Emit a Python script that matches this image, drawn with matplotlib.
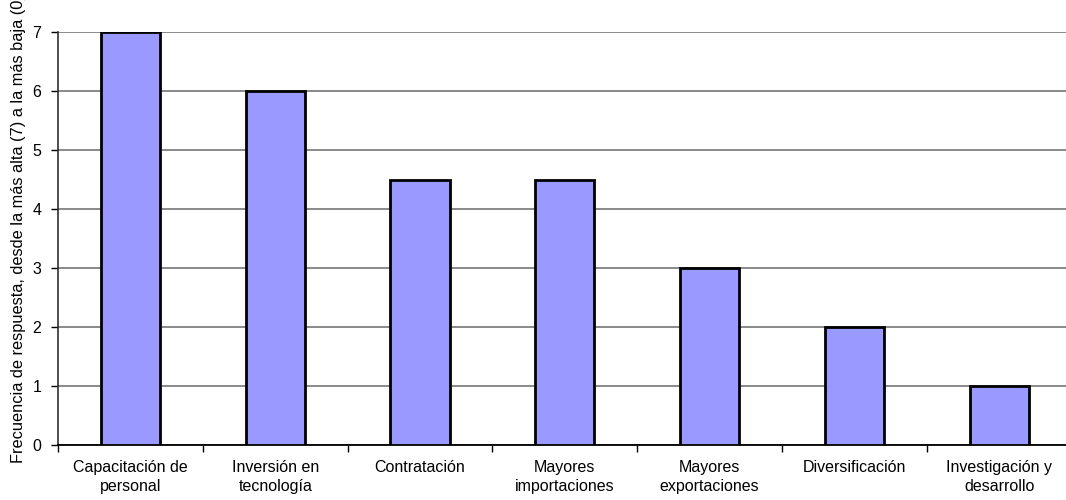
import matplotlib
matplotlib.use("Agg")
import matplotlib.pyplot as plt
import numpy as np

categories = ["Capacitación de\npersonal", "Inversión en\ntecnología", "Contratación",
              "Mayores\nimportaciones", "Mayores\nexportaciones", "Diversificación",
              "Investigación y\ndesarrollo"]
values = [7, 6, 4.5, 4.5, 3, 2, 1]
yticks = [0, 1, 2, 3, 4, 5, 6, 7]
ylabel = "Frecuencia de respuesta, desde la más alta (7) a la más baja (0)"

plt.rcParams['font.family'] = ['Liberation Sans', 'DejaVu Sans']

fig = plt.figure(figsize=(10.66, 5.0), dpi=100)
ax = fig.add_axes([58/1066, 55/500, 1013.6/1066, 413/500])

x = np.arange(len(categories))
ax.bar(x, values, width=0.41, color="#9999FF", edgecolor="black", linewidth=2.0, zorder=3)

ax.set_xlim(-0.5, len(categories) - 0.5)
ax.set_ylim(0, 7)
ax.set_yticks(yticks)
ax.set_yticklabels([str(t) for t in yticks], fontsize=11.5)
ax.yaxis.grid(True, color="#808080", linewidth=1.3, zorder=0)
ax.set_axisbelow(True)

ax.set_xticks(x)
ax.set_xticklabels(categories, fontsize=11.5, linespacing=1.35)
ax.tick_params(axis='x', length=0, pad=11)
ax.set_xticks(np.arange(-0.5, len(categories) + 0.5, 1), minor=True)
ax.tick_params(axis='x', which='minor', length=5, width=1, color='black', direction='out')
ax.tick_params(axis='y', length=5, width=1, color='black', direction='out', pad=7)

for s in ['top', 'right']:
    ax.spines[s].set_visible(False)
ax.spines['left'].set_color('#303030')
ax.spines['left'].set_linewidth(1.2)
ax.spines['bottom'].set_color('black')
ax.spines['bottom'].set_linewidth(1.3)

fig.text(19/1066, 37/500, ylabel, rotation=90, ha='center', va='bottom', fontsize=11.8)

fig.savefig("out.png", dpi=100)
